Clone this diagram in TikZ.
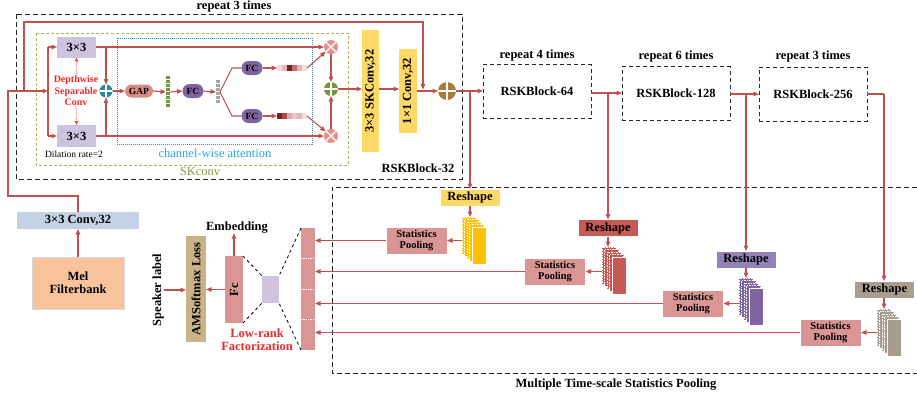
\documentclass[tikz,border=0pt]{standalone}
\usepackage{fontspec}
\setmainfont{Liberation Serif}
\usetikzlibrary{arrows.meta}

\definecolor{linered}{HTML}{C0504D}
\definecolor{lav}{HTML}{CCC3DE}
\definecolor{tealc}{HTML}{31849B}
\definecolor{gapc}{HTML}{DB8C82}
\definecolor{fcpurple}{HTML}{8064A2}
\definecolor{mulc}{HTML}{E39190}
\definecolor{sumgreen}{HTML}{77933C}
\definecolor{sumbrown}{HTML}{A87D3B}
\definecolor{skyellow}{HTML}{FFD966}
\definecolor{stackyellow}{HTML}{FFC000}
\definecolor{rsred}{HTML}{C65A55}
\definecolor{rspurple}{HTML}{9383B8}
\definecolor{rsgrey}{HTML}{A89E8F}
\definecolor{stgrey}{HTML}{A79D8E}
\definecolor{poolpink}{HTML}{DA9694}
\definecolor{amtan}{HTML}{C9B286}
\definecolor{lrlav}{HTML}{CEC4DF}
\definecolor{melc}{HTML}{F8C39B}
\definecolor{convblue}{HTML}{C3D2E5}
\definecolor{txtred}{HTML}{F02828}
\definecolor{chanblue}{HTML}{2E8CCB}
\definecolor{chantxt}{HTML}{29A6E3}
\definecolor{skgreen}{HTML}{9BBB59}
\definecolor{sktxt}{HTML}{859B3E}

% a pile of feature maps: name, front-left x, front-top y, colour
\newcommand\featstack[4]{%
  \foreach \k in {4,3,2,1} {
    \fill[#4] ({#2-2.5*\k},{#3-2.5*\k}) rectangle ++(14,37);
    \draw[white, densely dotted, line width=0.6] ({#2-2.5*\k},{#3-2.5*\k}) rectangle ++(14,37);
  }
  \draw[white, line width=0.5, fill=#4] (#2,#3) rectangle ++(14,37);
  \node[inner sep=0, outer sep=0, minimum width=24, minimum height=47] (#1) at ({#2+2},{#3+13.5}) {};
}

\begin{document}
\begin{tikzpicture}[x=1pt,y=-1pt,
  ln/.style={draw=linered, line width=1.1},
  arr/.style={ln, -{Triangle[length=5.5pt,width=4.5pt]}},
  dotarr/.style={draw=txtred!80!white, line width=0.9, densely dotted, -{Triangle[length=4pt,width=4pt]}},
  bf/.style={font=\fontsize{12.5}{14}\selectfont\bfseries},
  sbf/.style={font=\fontsize{10.5}{11.5}\selectfont\bfseries},
  tbf/.style={font=\fontsize{9.5}{10}\selectfont\bfseries},
  blk/.style={inner sep=0, outer sep=0, align=center, text=black},
  opsum/.style={circle, inner sep=0, outer sep=0, minimum size=#1, path picture={
      \draw[white, line width=1.1] (path picture bounding box.north) -- (path picture bounding box.south)
        (path picture bounding box.west) -- (path picture bounding box.east);}},
  opmul/.style={circle, inner sep=0, outer sep=0, minimum size=#1, path picture={
      \draw[white, line width=1.1] (path picture bounding box.north west) -- (path picture bounding box.south east)
        (path picture bounding box.north east) -- (path picture bounding box.south west);}},
  dbox/.style={blk, bf, draw=black!85, dash pattern=on 4pt off 3pt, line width=1, minimum width=108, minimum height=54},
  pool/.style={blk, sbf, fill=poolpink, draw=white, line width=0.6, minimum width=61, minimum height=27},
  rs/.style={blk, bf, draw=white, line width=0.6, minimum width=60, minimum height=17},
  pill/.style={blk, tbf, rounded corners=6.5, minimum height=13},
]
\useasboundingbox (0,0) rectangle (917,397);
\fill[white] (0,0) rectangle (917,397);

% ---------------- group frames ----------------
\draw[black!85, dash pattern=on 5pt off 3pt, line width=1] (16,14) rectangle (462,179);
\draw[skgreen, dash pattern=on 3pt off 2pt, line width=1] (36,33) rectangle (348,165);
\draw[chanblue, densely dotted, line width=1] (117,38) rectangle (312,144);
\draw[black!85, dash pattern=on 5pt off 3pt, line width=1] (917,187) -- (332,187) -- (332,373) -- (917,373);

\node[blk, bf] (rep32) at (234,6) {repeat 3 times};
\node[blk, bf] (blk32) at (418,168) {RSKBlock-32};
\node[blk, font=\fontsize{12.5}{14}\selectfont, text=sktxt] (sklbl) at (200,171) {SKconv};
\node[blk, font=\fontsize{12.5}{14}\selectfont, text=chantxt] (chlbl) at (215,153) {channel-wise attention};
\node[blk, font=\fontsize{9.5}{10}\selectfont] (dil) at (74,154) {Dilation rate=2};
\node[blk, bf] (mtsp) at (616,385) {Multiple Time-scale Statistics Pooling};

% ---------------- input ----------------
\node[blk, bf, fill=melc, draw=black!15, minimum width=92, minimum height=52] (mel) at (78,283) {Mel\\[-1pt]Filterbank};
\node[blk, bf, fill=convblue, minimum width=122, minimum height=17] (conv) at (78,220.5) {3×3 Conv,32};
\draw[arr] (mel) -- (conv);

\coordinate (inA) at (78,196);
\coordinate (inB) at (8,196);
\coordinate (inC) at (8,91);
\coordinate (skA) at (24,91);
\coordinate (skB) at (24,22);
\coordinate (skC) at (423,22);
\coordinate (skD) at (423,89.5);
\coordinate (spM) at (48,91);
\coordinate (spT) at (48,47);
\coordinate (spB) at (48,136);

\draw[ln] (conv.north) -- (inA) -- (inB) -- (inC) -- (skA);
\draw[arr] (skA) -- (spM);
\draw[arr] (skA) -- (skB) -- (skC) -- (skD);
\draw[ln] (spT) -- (spB);

% ---------------- SKconv ----------------
\node[blk, bf, fill=lav, minimum width=39, minimum height=21] (top3) at (76.5,47) {3×3};
\node[blk, bf, fill=lav, minimum width=39, minimum height=22] (bot3) at (76.5,136) {3×3};
\draw[arr] (spT) -- (top3.west);
\draw[arr] (spB) -- (bot3.west);

\node[blk, font=\fontsize{10}{11.5}\selectfont\bfseries, text=txtred] (dsc) at (76,91) {Depthwise\\Separable\\Conv};
\draw[dotarr] (dsc.north) -- (top3.south);
\draw[dotarr] (dsc.south) -- (bot3.north);

\node[opsum=13, fill=tealc] (sumA) at (106,91) {};
\node[opmul=14, fill=mulc] (mulT) at (331,47) {};
\node[opmul=14, fill=mulc] (mulB) at (331,136) {};
\node[opsum=14, fill=sumgreen] (sumG) at (331,89) {};

\draw[arr] (top3.east) -- (mulT.west);
\draw[arr] (bot3.east) -- (mulB.west);
\draw[arr] (top3.east -| sumA) -- (sumA.north);
\draw[arr] (bot3.east -| sumA) -- (sumA.south);

\node[pill, fill=gapc, minimum width=28] (gap) at (139,91) {GAP};
\draw[arr] (sumA.east) -- (gap.west);

% green descriptor bar
\node[inner sep=0, outer sep=0, minimum width=4, minimum height=32] (gbarG) at (168,92) {};
\foreach \i in {0,...,7} \fill[sumgreen] (166,{76+4*\i}) rectangle ++(4,3.3);
\draw[arr] (gap.east) -- (gbarG.west);

\node[pill, fill=fcpurple, minimum width=21, minimum height=14, rounded corners=7] (fcM) at (193,91) {FC};
\draw[arr] (gbarG.east) -- (fcM.west);

% grey descriptor bar
\node[inner sep=0, outer sep=0, minimum width=4, minimum height=24] (gbarY) at (218,92) {};
\foreach \i in {0,...,5} \fill[black!35] (216,{80+4*\i}) rectangle ++(4,3.3);
\draw[arr] (fcM.east) -- (gbarY.west);

\node[pill, fill=fcpurple, minimum width=21, minimum height=14, rounded corners=7] (fcU) at (252,68) {FC};
\node[pill, fill=fcpurple, minimum width=21, minimum height=14, rounded corners=7] (fcL) at (252,116) {FC};
\coordinate (fk1) at (232,68);
\coordinate (fk2) at (232,116);
\draw[ln] (gbarY.east) -- (fk1) -- (fcU.west);
\draw[ln] (gbarY.east) -- (fk2) -- (fcL.west);

% attention weight bars
\node[inner sep=0, outer sep=0, minimum width=30, minimum height=6] (barU) at (292,68) {};
\node[inner sep=0, outer sep=0, minimum width=30, minimum height=6] (barL) at (292,116) {};
\foreach \c [count=\i from 0] in {F4D7D7,EBB8B8,7A2222,C46A6A,E9B4B4,F6DEDE}
  {\definecolor{segc}{HTML}{\c}\fill[segc] ({277+5*\i},65) rectangle ++(5,6);}
\foreach \c [count=\i from 0] in {7A2222,B04848,E3A3A3,EFC5C5,E8B6B6,F6DEDE}
  {\definecolor{segc}{HTML}{\c}\fill[segc] ({277+5*\i},113) rectangle ++(5,6);}
\draw[arr] (fcU.east) -- (barU.west);
\draw[arr] (fcL.east) -- (barL.west);
\draw[arr] (barU.east) -- (mulT);
\draw[arr] (barL.east) -- (mulB);
\draw[arr] (mulT.south) -- (sumG.north);
\draw[arr] (mulB.north) -- (sumG.south);

% rotated blocks: width runs along the text
\node[blk, bf, fill=skyellow, minimum width=122, minimum height=17, rotate=90] (skc) at (370.5,91) {3×3 SKConv,32};
\node[blk, bf, fill=skyellow, minimum width=84, minimum height=18, rotate=90] (c11) at (408,91) {1×1 Conv,32};
\node[opsum=18, fill=sumbrown] (sumB) at (447,91) {};
\draw[arr] (sumG.east) -- (sumG.east -| skc.north);
\draw[arr] (skc.south |- sumG.east) -- (c11.north |- sumG.east);
\draw[arr] (c11.south |- sumB) -- (sumB.west);

% ---------------- residual stages ----------------
\node[dbox] (r64) at (537,91.5) {RSKBlock-64};
\node[dbox] (r128) at (676,93.5) {RSKBlock-128};
\node[dbox] (r256) at (813,94) {RSKBlock-256};
\node[blk, bf] (rep4) at (537,55) {repeat 4 times};
\node[blk, bf] (rep6) at (676,56) {repeat 6 times};
\node[blk, bf] (rep3) at (813,56) {repeat 3 times};

\coordinate (b1) at (470,91);
\coordinate (b2) at (608,93);
\coordinate (b3) at (746,94);
\coordinate (b4) at (884,94);
\draw[arr] (sumB.east) -- (sumB.east -| r64.west);
\draw[arr] (r64.east |- b2) -- (b2 -| r128.west);
\draw[arr] (r128.east |- b3) -- (b3 -| r256.west);
\draw[ln] (r256.east |- b4) -- (b4);

% ---------------- multiple time-scale pooling ----------------
\node[rs, fill=skyellow] (rsY) at (470,197.5) {Reshape};
\node[rs, fill=rsred] (rsR) at (608,228) {Reshape};
\node[rs, fill=rspurple] (rsP) at (746,259.5) {Reshape};
\node[rs, fill=rsgrey] (rsG) at (884.5,289.5) {Reshape};
\draw[arr] (b1) -- (rsY.north);
\draw[arr] (b2) -- (rsR.north);
\draw[arr] (b3) -- (rsP.north);
\draw[arr] (b4) -- (b4 |- rsG.north);

\featstack{stY}{472}{227}{stackyellow}
\featstack{stR}{612}{257}{rsred}
\featstack{stP}{749}{288}{fcpurple}
\featstack{stG}{887}{319}{stgrey}
\draw[arr] (rsY.south) -- (rsY.south |- stY.north);
\draw[arr] (rsR.south) -- (rsR.south |- stR.north);
\draw[arr] (rsP.south) -- (rsP.south |- stP.north);
\draw[arr] (b4 |- rsG.south) -- (b4 |- stG.north);

\node[pool] (sp1) at (416.5,240.5) {Statistics\\Pooling};
\node[pool] (sp2) at (555,271.5) {Statistics\\Pooling};
\node[pool] (sp3) at (693,303.5) {Statistics\\Pooling};
\node[pool] (sp4) at (830.5,332.5) {Statistics\\Pooling};
\draw[arr] (stY.west |- sp1) -- (sp1.east);
\draw[arr] (stR.west |- sp2) -- (sp2.east);
\draw[arr] (stP.west |- sp3) -- (sp3.east);
\draw[arr] (stG.west |- sp4) -- (sp4.east);

% concatenated statistics
\node[blk, fill=poolpink, minimum width=14, minimum height=122] (col) at (308,289) {};
\foreach \yy in {258,289,319} \draw[white, densely dotted, line width=0.7] (301,\yy) -- (315,\yy);
\draw[arr] (sp1.west) -- (sp1.west -| col.east);
\draw[arr] (sp2.west) -- (sp2.west -| col.east);
\draw[arr] (sp3.west) -- (sp3.west -| col.east);
\draw[arr] (sp4.west) -- (sp4.west -| col.east);

% low-rank factorized embedding layer
\node[blk, fill=lrlav, minimum width=17, minimum height=27] (sq) at (270.5,289.5) {};
\node[blk, bf, fill=poolpink, minimum width=67, minimum height=18, rotate=90] (fc) at (234,289.5) {Fc};
\draw[black, dashed, line width=0.8] (col.north west) -- (sq.north east);
\draw[black, dashed, line width=0.8] (col.south west) -- (sq.south east);
\draw[black, dashed, line width=0.8] (fc.south east) -- (sq.north west);
\draw[black, dashed, line width=0.8] (fc.south west) -- (sq.south west);
\node[blk, bf, text=txtred] (lr) at (257,339.5) {Low-rank\\[-0.5pt]Factorization};

\node[blk, bf] (emb) at (237,227.5) {Embedding};
\draw[arr] (fc.east) -- (fc.east |- emb.south);

\node[blk, bf, fill=amtan, minimum width=106, minimum height=20, rotate=90] (am) at (196,289) {AMSoftmax Loss};
\draw[arr] (fc.north) -- (fc.north -| am.south);
\node[blk, bf, rotate=90] (spk) at (158,290) {Speaker label};
\draw[arr] (spk.south) -- (spk.south -| am.north);
\end{tikzpicture}
\end{document}
